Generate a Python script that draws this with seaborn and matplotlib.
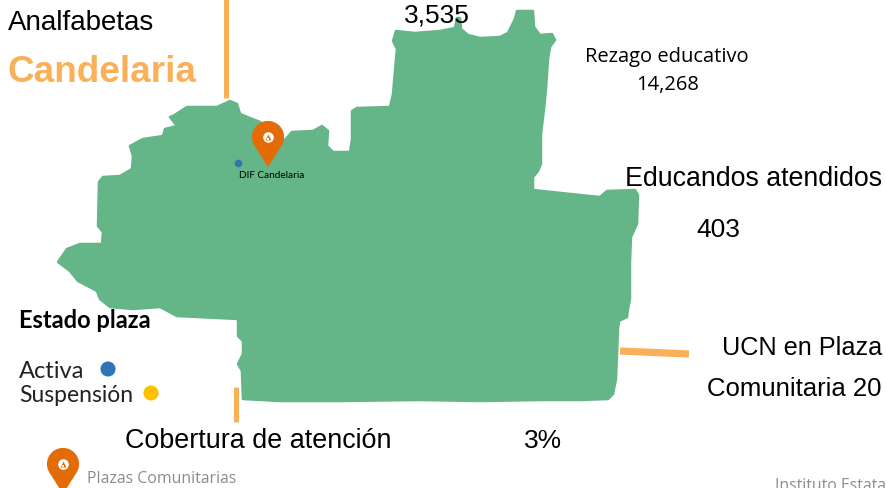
import matplotlib
matplotlib.use("Agg")
import matplotlib.pyplot as plt
import seaborn as sns
import pandas as pd
import numpy as np
from matplotlib.path import Path

sns.set_theme(style="white")
plt.rcParams['font.family'] = ['Liberation Sans', 'DejaVu Sans']

# Municipality outline
outline_x = [393,396,415,440,455,457,460,461,468,480,500,508,515,517,533,534,540,552,555,550,548,546,544,541,541,538,533,533,
             580,600,607,635,638,637,631,630,630,628,627,619,618,616,613,608,580,540,480,420,340,280,243,
             242,242,238,243,243,238,238,177,160,133,110,100,97,78,70,58,67,80,102,103,98,99,103,120,132,133,130,143,163,165,177,170,
             173,187,217,230,237,240,260,283,292,313,322,328,327,333,350,352,352,357,390,393,396,397]
outline_y = [42,32,34,32,29,19,19,30,36,39,38,34,20,12,12,28,36,35,41,48,60,90,110,135,165,172,178,191,
             196,198,192,191,196,225,238,262,300,310,318,322,330,380,395,400,401,401,402,401,402,402,400,
             375,372,365,355,342,337,320,317,308,310,308,300,292,282,272,263,250,245,245,233,227,183,178,177,170,157,147,140,137,130,127,118,
             117,108,108,102,105,115,123,143,133,132,127,132,147,153,153,140,112,109,108,95,60,50]

plaza_names = ["DIF Candelaria"]
plaza_x = [238]
plaza_y = [164]
legend_labels = ["Activa", "Suspensión"]
legend_x = [108, 151]
legend_y = [370, 394]
legend_colors = ["#2E75B6", "#FFC000"]
pin_x = [268, 63]
pin_y = [168, 495]
pin_sizes = [4400, 4400]

GREEN = "#64B587"
ORANGE = "#FAB058"
PIN = "#E36C09"

fig = plt.figure(figsize=(8.87, 4.89), dpi=100, facecolor="white")
ax = fig.add_axes([0, 0, 1, 1])
ax.set_xlim(0, 887)
ax.set_ylim(489, 0)
ax.axis("off")

ax.fill(outline_x, outline_y, facecolor=GREEN, edgecolor=GREEN, linewidth=1.8, joinstyle="round", zorder=1)

# leader bars
ax.plot([226, 226], [0, 99], color=ORANGE, lw=3.6, solid_capstyle="butt", zorder=2)
ax.plot([236, 236], [388, 423], color=ORANGE, lw=3.6, solid_capstyle="butt", zorder=2)
ax.plot([620, 689], [352, 355], color=ORANGE, lw=5.2, solid_capstyle="butt", zorder=2)

# pin marker: teardrop with tip at origin, head above it
t = np.linspace(np.radians(-30), np.radians(210), 40)
verts = np.c_[np.r_[0, 15 * np.cos(t), 0], np.r_[0, 28 + 15 * np.sin(t), 0]]
pin_marker = Path(verts, closed=True)

pins = pd.DataFrame({"x": pin_x, "y": pin_y})
sns.scatterplot(data=pins, x="x", y="y", marker=pin_marker, s=pin_sizes, color=PIN, linewidth=0, ax=ax, zorder=3, legend=False)
for x, y in zip(pin_x, pin_y):
    ax.scatter([x], [y - 30], s=58, color="white", linewidth=0, zorder=4)
    ax.scatter([x], [y - 30.5], s=18, color=PIN, marker="^", linewidth=0, zorder=5)
    ax.scatter([x], [y - 28.5], s=4, color="white", marker="s", linewidth=0, zorder=6)

sns.scatterplot(x=plaza_x, y=plaza_y, s=30, color="#2E75B6", linewidth=0, ax=ax, zorder=3, legend=False)
sns.scatterplot(x=legend_x, y=legend_y, hue=legend_labels, palette=legend_colors, s=118, linewidth=0, ax=ax, zorder=3, legend=False)

def T(x, y, s, size, ha="left", color="black", family="Liberation Sans", weight="normal", **kw):
    return ax.text(x, y, s, fontsize=size, ha=ha, va="center", color=color, family=family, weight=weight, **kw)

T(8, 23, "Analfabetas", 20)
T(8, 72, "Candelaria", 26.6, color=ORANGE, weight="bold")
T(437, 15, "3,535", 19, ha="center")
T(667, 57, "Rezago educativo", 14.5, ha="center", family="Open Sans")
T(668, 85, "14,268", 14.5, ha="center", family="Open Sans")
T(882, 179, "Educandos atendidos", 19.3, ha="right")
T(718, 230, "403", 19, ha="center")
T(882, 348, "UCN en Plaza", 18.2, ha="right")
T(882, 389, "Comunitaria 20", 18.5, ha="right")
T(125, 441, "Cobertura de atención", 19.4)
T(543, 441, "3%", 19, ha="center")
T(239, 175, "DIF Candelaria", 7.2, family="Lato")
T(19, 320, "Estado plaza", 17, family="Lato", weight="bold")
T(19, 371, "Activa", 17, family="Lato", color="#222222")
T(19, 396, "Suspensión", 16.5, family="Lato", color="#222222")
T(87, 479, "Plazas Comunitarias", 11.4, family="Open Sans", color="#8C8C8C")
T(775, 486, "Instituto Estatal", 11.4, family="Open Sans", color="#8C8C8C")

ax.set_xlabel("")
ax.set_ylabel("")
fig.savefig("out.png", dpi=100, facecolor="white")
